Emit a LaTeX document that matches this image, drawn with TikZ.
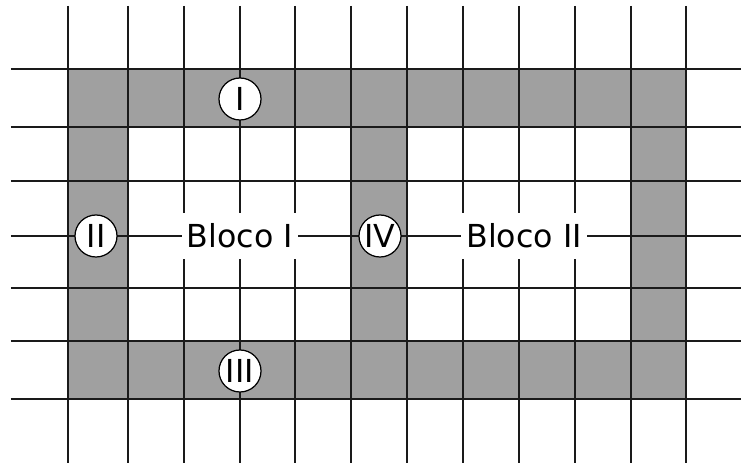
\documentclass[tikz,border=0pt]{standalone}
\usepackage{fontspec}
\setmainfont{DejaVu Sans}
\usepackage{tikz}
\usetikzlibrary{positioning}
\definecolor{gdGray}{HTML}{A0A0A0}
\definecolor{gdLine}{HTML}{1A1A1A}

\begin{document}
\begin{tikzpicture}[
  x=0.01cm, y=-0.01cm,
  font=\fontsize{9}{11}\selectfont,
  cellfill/.style={fill=gdGray},
  gridline/.style={draw=gdLine, line width=0.45pt},
  blocolabel/.style={fill=white, inner xsep=1.5pt, inner ysep=0pt, minimum height=0.46cm},
  regiao/.style={circle, draw=black, fill=white, line width=0.35pt, inner sep=0pt, minimum size=0.42cm},
]
\useasboundingbox (0,0) rectangle (741,464);

% faixas cinzentas
\fill[cellfill] (68,69) rectangle (686,127);
\fill[cellfill] (68,341) rectangle (686,399);
\fill[cellfill] (68,127) rectangle (128,341);
\fill[cellfill] (351,127) rectangle (407,341);
\fill[cellfill] (631,127) rectangle (686,341);

% grelha
\foreach \gx in {68,128,184,240,295,351,407,463,519,575,631,686}
  \draw[gridline] (\gx,6) -- (\gx,463);
\foreach \gy in {69,127,181,236,288,341,399}
  \draw[gridline] (11,\gy) -- (741,\gy);

% blocos
\node[blocolabel] (b1) at (240,236) {Bloco I};
\node[blocolabel] (b2) at (524,236) {Bloco II};

% regioes
\node[regiao] (r1) at (240,99) {I};
\node[regiao] (r2) at (96,236) {II};
\node[regiao] (r3) at (240,371) {III};
\node[regiao] (r4) at (380,236) {IV};
\end{tikzpicture}
\end{document}
